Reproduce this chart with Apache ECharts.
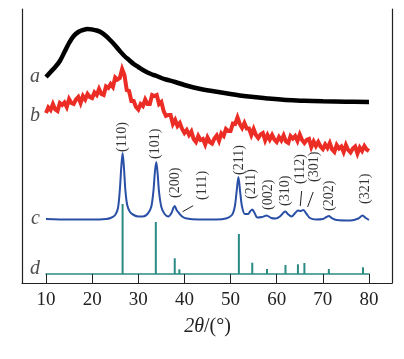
<!DOCTYPE html>
<html><head><meta charset="utf-8">
<script src="https://cdn.jsdelivr.net/npm/echarts@6/dist/echarts.min.js"></script>
<style>html,body{margin:0;padding:0;background:#fff}#c{width:404px;height:359px}</style>
</head><body><div id="c"></div>
<script>
// ---- data (intensity in arbitrary units, traces stacked with offsets) ----
const aAngles = [10,11,12,13,14,15,16,17,18,19,20,21,22,23,24,25,26,27,28,29,30,31,32,33,34,35,36,38,40,42,44,46,48,50,52,55,58,62,66,70,75,80];
const aIntensity = [197,202,207,213,222,231,238,242,244,245,244.5,243.5,241.5,238,233.5,228.5,223,218,214,210,207,204,201.5,199.5,198,196,194.5,192,189,186.5,184.5,183,181.5,180,178.5,177,175.5,174,173.2,172.7,172.3,172];

const bAngles = [10,10.5,11,11.5,12,12.5,13,13.5,14,14.5,15,15.5,16,16.5,17,17.5,18,18.5,19,19.5,20,20.5,21,21.5,22,22.5,23,23.5,24,24.5,25,25.5,26,26.5,27,27.5,28,28.5,29,29.5,30,30.5,31,31.5,32,32.5,33,33.5,34,34.5,35,35.5,36,36.5,37,37.5,38,38.5,39,39.5,40,40.5,41,41.5,42,42.5,43,43.5,44,44.5,45,45.5,46,46.5,47,47.5,48,48.5,49,49.5,50,50.5,51,51.5,52,52.5,53,53.5,54,54.5,55,55.5,56,56.5,57,57.5,58,58.5,59,59.5,60,60.5,61,61.5,62,62.5,63,63.5,64,64.5,65,65.5,66,66.5,67,67.5,68,68.5,69,69.5,70,70.5,71,71.5,72,72.5,73,73.5,74,74.5,75,75.5,76,76.5,77,77.5,78,78.5,79,79.5,80];
const bIntensity = [161,166.5,164,170,164.5,163,171,169,171.5,167,175,171,170,174.5,177,171,178,174.5,180,177,176,181.5,179,185,180,179,187.5,186,190,187,196.5,194.5,196,205,199,184,183,173,173,167,164.5,170,168,174.5,170,170,179,178,179,170,172,163,158,159,159,150,154,148,151,145,141,144,139,142.5,135,132,138,134,135,129.5,136.5,132,130.5,135.5,138.5,133,140.5,138,145,143,143,150.5,150,156.5,150,146,151,145.5,145.5,139,145,139,136,139.5,141,133.5,139,134.5,139,134.5,132,137,133.5,138.5,132.5,131,138,135.5,138,133,139.5,134,131,134,135,127,132.5,128,132,127.5,125,129.5,126,131,124.5,122,129,125.5,127.5,122,129,124,121.5,125.5,127.5,120.5,126.5,123,128,124.5,123];

const cAngles = [10,15,20,23,24,25,25.6,26,26.3,26.6,26.9,27.2,27.6,28.2,29,30,31,32,32.8,33.3,33.6,33.9,34.2,34.5,35,35.7,36.5,37.2,37.6,37.9,38.3,38.8,39.5,40.5,43,47,49,50.3,50.9,51.3,51.7,52.1,52.5,53.1,53.8,54.3,54.7,55.1,55.8,56.8,57.8,58.8,59.8,60.8,61.5,61.9,62.4,63.2,64,64.6,65.2,65.8,66.4,67.2,68.5,70,70.8,71.3,71.9,73,76,77.7,78.6,79.3,80];
const cIntensity = [55,54.5,54.5,55,56,59,66,84,106,121,106,84,69,62,59,57.5,57.5,60,67,84,102,112,100,82,67,60,57.5,61,66,68,64,61,57.5,55.5,54.5,54.5,55.5,59,67,82,97,81,67,60,60,63,64.5,62,56.5,57,58.5,56,55.5,58,61.5,62.5,60,57.5,61,63.5,63,64,60.5,56,54.5,55,57,58,56,54,53.5,55.5,58.5,56,54];

const dAngles = [26.6,33.8,37.9,38.9,51.8,54.7,57.9,61.9,64.6,66.0,71.3,78.7];
const dIntensity = [70,52,15.7,4.7,40,11.3,5,9,9.7,11,5,6.7];

const hklNames = ['(110)','(101)','(200)','(111)','(211)','(211)','(002)','(310)','(112)','(301)','(202)','(321)'];
const hklAngles = [26.6,33.8,38.1,43.8,51.9,54.6,58.1,61.8,65.2,68.1,71.4,79.1];
const hklHeights = [122,115,76,74,99,75,64,68,90,92,63,70];

const leaderFrom = [[39.6,62.3],[65.1,68],[66.7,67]];
const leaderTo = [[41.9,68.3],[65.4,83],[67.9,82]];

const traceNames = ['a','b','c','d'];
const xTicks = [10,20,30,40,50,60,70,80];

// ---- chart ----
const serif = 'Liberation Serif';
const pairs = (xs, ys) => xs.map((x, i) => [x, ys[i]]);
const letterStyle = {fontFamily: serif, fontStyle: 'italic', fontSize: 20, color: '#222'};
const letterAnchors = [aIntensity[0], bIntensity[0] - 3, cIntensity[0], 5];

const chart = echarts.init(document.getElementById('c'), null, {renderer: 'canvas'});
chart.setOption({
  animation: false,
  backgroundColor: '#fff',
  grid: [
    {left: 22, top: 9, width: 370, height: 274},
    {left: 46, top: 9, width: 323, height: 265}
  ],
  xAxis: [
    {gridIndex: 0, type: 'value', position: 'top', min: 0, max: 1,
     axisLine: {show: true, lineStyle: {color: '#222', width: 1.2}},
     axisTick: {show: false}, axisLabel: {show: false}, splitLine: {show: false}},
    {gridIndex: 1, type: 'value', min: 10, max: 80, interval: 10,
     axisLine: {show: true, onZero: false, lineStyle: {color: '#2a8a84', width: 1.5}},
     axisTick: {show: true, inside: false, length: 9, lineStyle: {color: '#222', width: 1}},
     axisLabel: {margin: 17, fontFamily: serif, fontSize: 19, color: '#222',
       formatter: v => xTicks.includes(v) ? String(v) : ''},
     splitLine: {show: false},
     name: '{i|2θ}/(°)', nameLocation: 'middle', nameGap: 43,
     nameTextStyle: {fontFamily: serif, fontSize: 20, color: '#222',
       rich: {i: {fontFamily: serif, fontStyle: 'italic', fontSize: 20, color: '#222'}}}}
  ],
  yAxis: [
    {gridIndex: 0, type: 'value', min: 0, max: 1, position: 'left',
     axisLine: {show: true, lineStyle: {color: '#222', width: 1.2}},
     axisTick: {show: false}, axisLabel: {show: false}, splitLine: {show: false}},
    {gridIndex: 0, type: 'value', min: 0, max: 1, position: 'right',
     axisLine: {show: true, lineStyle: {color: '#222', width: 1.2}},
     axisTick: {show: false}, axisLabel: {show: false}, splitLine: {show: false}},
    {gridIndex: 1, type: 'value', min: 0, max: 265, show: false}
  ],
  series: [
    {name: 'd', type: 'bar', xAxisIndex: 1, yAxisIndex: 2, barWidth: 2,
     itemStyle: {color: '#2a8a84'}, data: pairs(dAngles, dIntensity), z: 1},
    {name: 'a', type: 'line', xAxisIndex: 1, yAxisIndex: 2, smooth: 0.4, showSymbol: false,
     lineStyle: {color: '#000', width: 4.5}, data: pairs(aAngles, aIntensity), z: 3},
    {name: 'b', type: 'line', xAxisIndex: 1, yAxisIndex: 2, smooth: false, showSymbol: false,
     lineStyle: {color: '#ec2d25', width: 4, join: 'miter'}, data: pairs(bAngles, bIntensity), z: 2},
    {name: 'c', type: 'line', xAxisIndex: 1, yAxisIndex: 2, smooth: 0.3, showSymbol: false,
     lineStyle: {color: '#2a4fa6', width: 2}, data: pairs(cAngles, cIntensity), z: 4},
    {name: 'hkl', type: 'scatter', xAxisIndex: 1, yAxisIndex: 2, symbolSize: 0, silent: true,
     data: hklAngles.map((x, i) => ({value: [x, hklHeights[i]], name: hklNames[i]})),
     label: {show: true, formatter: p => p.name, position: 'right', distance: 0, rotate: 90,
       align: 'left', verticalAlign: 'middle', fontFamily: serif, fontSize: 14, color: '#000'}, z: 5},
    {name: 'leaders', type: 'lines', coordinateSystem: 'cartesian2d', xAxisIndex: 1, yAxisIndex: 2,
     silent: true, lineStyle: {color: '#222', width: 1, opacity: 1},
     data: leaderFrom.map((f, i) => ({coords: [f, leaderTo[i]]})), z: 5},
    {name: 'letters', type: 'scatter', xAxisIndex: 1, yAxisIndex: 2, symbolSize: 0, silent: true,
     data: traceNames.map((n, i) => ({value: [10, letterAnchors[i]], name: n})),
     label: {show: true, formatter: p => p.name, position: 'left', distance: 6, ...letterStyle}, z: 5}
  ]
});
</script></body></html>
